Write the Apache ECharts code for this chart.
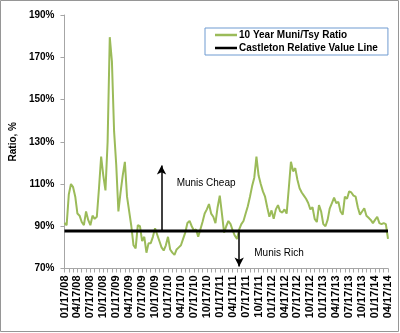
<!DOCTYPE html>
<html>
<head>
<meta charset="utf-8">
<script src="https://cdn.jsdelivr.net/npm/echarts@6/dist/echarts.min.js"></script>
<style>
html,body{margin:0;padding:0;background:#fff;}
#chart{width:400px;height:333px;}
</style>
</head>
<body>
<div id="chart"></div>
<script>
// Tick labels every 3 months (01/17/08 .. 04/17/14)
const tickLabels = ['01/17/08','04/17/08','07/17/08','10/17/08','01/17/09','04/17/09','07/17/09','10/17/09',
  '01/17/10','04/17/10','07/17/10','10/17/10','01/17/11','04/17/11','07/17/11','10/17/11',
  '01/17/12','04/17/12','07/17/12','10/17/12','01/17/13','04/17/13','07/17/13','10/17/13',
  '01/17/14','04/17/14'];

// 10 Year Muni/Tsy Ratio (%), sampled every half month from 01/17/08 to 04/17/14
const ratio = [
  91.5, 90.5, 105, 110, 108.5, 104, 96, 95, 92, 90.5,
  97, 93, 90.5, 95, 93.5, 94.5, 108, 123, 114, 107,
  130, 179.5, 168, 135, 119, 97, 106, 114, 120.5, 104,
  97, 90, 81, 79.5, 90.5, 90, 83, 85, 77.5, 82,
  82, 85, 89, 86, 83, 80, 78.5, 81, 85, 79,
  77.5, 76.5, 79, 80, 81, 84, 87, 91.5, 92.5, 90,
  88, 88.5, 85, 88.5, 92, 96, 98, 100.5, 96, 94.5,
  91.5, 99, 104.5, 96, 87, 90, 92.5, 91, 88, 85.5,
  84, 88.5, 91, 92.5, 96, 99.5, 104, 109, 113, 123,
  114, 110, 106.5, 104, 99, 94.5, 97.5, 93.5, 98, 100,
  97, 96.5, 98, 96, 108, 120.5, 116, 117.5, 112, 108,
  106, 104.5, 103, 101, 98, 99, 93.5, 92, 100, 97,
  91, 90, 93, 98.5, 101, 103.5, 101, 101.5, 97, 95.5,
  104, 103, 106.5, 106, 104.5, 104, 99, 95.5, 97, 98.5,
  95, 94, 93, 91.5, 93, 94.5, 91.5, 91, 91.5, 91,
  84
];

// Castleton Relative Value Line level (%)
const castletonLevel = 87.8;

// Annotations: [category index, value]
const cheapArrow = [[45, castletonLevel], [45, 118.7]];
const richArrow = [[81, castletonLevel], [81, 71]];
const cheapLabel = [52, 110.2];
const richLabel = [88, 77.1];

const seriesNames = ['10 Year Muni/Tsy Ratio', 'Castleton Relative Value Line'];

const categories = ratio.map((_, i) => String(i));
const castleton = ratio.map(() => castletonLevel);

const FONT = 'Liberation Sans';
const chart = echarts.init(document.getElementById('chart'));
chart.setOption({
  animation: false,
  backgroundColor: '#fff',
  grid: {left: 63, right: 12, top: 15, bottom: 64.5},
  legend: {
    left: 205, top: 28,
    orient: 'vertical',
    data: [
      {name: seriesNames[0], itemStyle: {color: '#9BBB59'}},
      {name: seriesNames[1], itemStyle: {color: '#000'}}
    ],
    icon: 'rect',
    itemWidth: 22, itemHeight: 2.5, itemGap: 1,
    padding: [1, 10, 1, 10],
    borderColor: '#6F9BD1', borderWidth: 1,
    textStyle: {fontFamily: FONT, fontWeight: 'bold', fontSize: 10, color: '#000', padding: [0,0,0,-3], lineHeight: 12}
  },
  xAxis: {
    type: 'category',
    data: categories,
    boundaryGap: false,
    axisLine: {lineStyle: {color: '#A6A6A6', width: 1}},
    axisTick: {show: true, length: 4, interval: (i) => i % 2 === 0, lineStyle: {color: '#A6A6A6'}},
    axisLabel: {
      interval: (i) => i % 6 === 0,
      rotate: 90,
      margin: 7,
      formatter: (v, i) => (i % 6 === 0 ? tickLabels[i / 6] : ''),
      fontFamily: FONT, fontWeight: 'bold', fontSize: 11, color: '#000'
    },
    splitLine: {show: false}
  },
  yAxis: {
    type: 'value',
    min: 70, max: 190, interval: 20,
    name: 'Ratio, %',
    nameLocation: 'middle',
    nameGap: 44,
    nameRotate: 90,
    nameTextStyle: {fontFamily: FONT, fontWeight: 'bold', fontSize: 10, color: '#000'},
    axisLine: {show: true, lineStyle: {color: '#A6A6A6'}},
    axisTick: {show: true, length: 4, lineStyle: {color: '#A6A6A6'}},
    axisLabel: {formatter: '{value}%', margin: 10, fontFamily: FONT, fontWeight: 'bold', fontSize: 10, color: '#000'},
    splitLine: {show: false}
  },
  series: [
    {
      name: seriesNames[0],
      type: 'line',
      data: ratio,
      symbol: 'none',
      lineStyle: {color: '#9BBB59', width: 2},
      itemStyle: {color: '#9BBB59'},
      z: 2
    },
    {
      name: seriesNames[1],
      type: 'line',
      data: castleton,
      symbol: 'none',
      lineStyle: {color: '#000', width: 3},
      itemStyle: {color: '#000'},
      z: 3,
      markLine: {
        silent: true,
        symbol: ['none', 'arrow'],
        symbolSize: [7, 9],
        label: {show: false},
        lineStyle: {color: '#000', width: 1.5, type: 'solid'},
        data: [
          [{coord: cheapArrow[0]}, {coord: cheapArrow[1]}],
          [{coord: richArrow[0]}, {coord: richArrow[1]}]
        ]
      },
      markPoint: {
        silent: true,
        symbol: 'circle',
        symbolSize: 0,
        label: {show: true, position: 'right', distance: 0, fontFamily: FONT, fontSize: 10, color: '#000'},
        data: [
          {coord: cheapLabel, label: {formatter: 'Munis Cheap'}},
          {coord: richLabel, label: {formatter: 'Munis Rich'}}
        ]
      }
    }
  ],
  graphic: [{
    type: 'rect', silent: true, z: 100,
    shape: {x: 0.5, y: 0.5, width: 398, height: 331},
    style: {fill: 'none', stroke: '#969696', lineWidth: 1}
  }]
});
</script>
</body>
</html>
